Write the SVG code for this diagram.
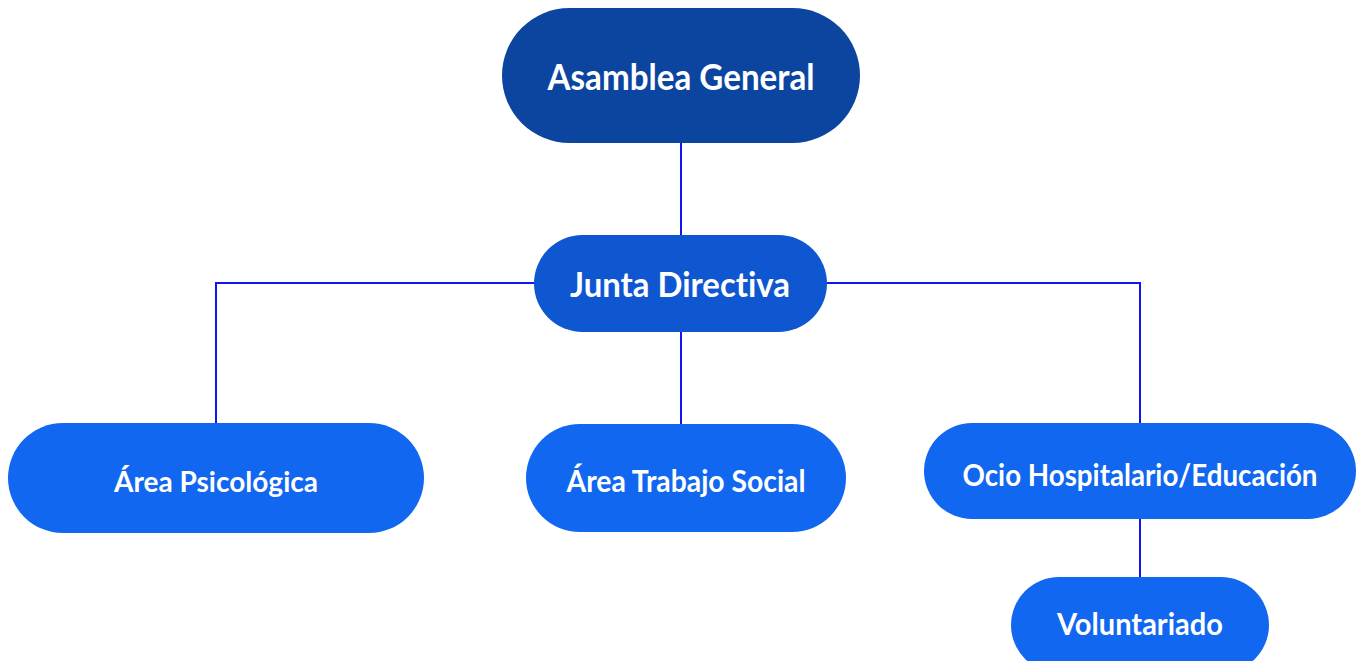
<svg xmlns="http://www.w3.org/2000/svg" width="1362" height="661" viewBox="0 0 1362 661">
<style>
.lbl{font-family:"Lato","Open Sans","Liberation Sans",sans-serif;font-weight:bold;fill:#ffffff;text-anchor:middle;font-variant-ligatures:none;font-feature-settings:"liga" 0,"dlig" 0}
.c{stroke:#1414ee;stroke-width:2;fill:none}
</style>
<rect width="1362" height="661" fill="#ffffff"/>
<g id="connectors">
<path class="c" d="M681,143 V235"/>
<path class="c" d="M534,283 H216 V423"/>
<path class="c" d="M827,283 H1140 V423"/>
<path class="c" d="M681,332 V424"/>
<path class="c" d="M1140,519 V577"/>
</g>
<g id="asamblea">
<rect x="502" y="8" width="358" height="135" rx="67.5" fill="#0b45a0"/>
<text class="lbl" x="681" y="90" font-size="37" textLength="267" lengthAdjust="spacingAndGlyphs">Asamblea General</text>
</g>
<g id="junta">
<rect x="534" y="235" width="293" height="97" rx="48.5" fill="#0f57d1"/>
<text class="lbl" x="680" y="297" font-size="34" textLength="220" lengthAdjust="spacingAndGlyphs">Junta Directiva</text>
</g>
<g id="psicologica">
<rect x="8" y="423" width="416" height="110" rx="55" fill="#1167f0"/>
<text class="lbl" x="216" y="492" font-size="28" textLength="204" lengthAdjust="spacingAndGlyphs">Área Psicológica</text>
</g>
<g id="trabajo">
<rect x="526" y="424" width="320" height="108" rx="54" fill="#1167f0"/>
<text class="lbl" x="686" y="492" font-size="30" textLength="239" lengthAdjust="spacingAndGlyphs">Área Trabajo Social</text>
</g>
<g id="ocio">
<rect x="924" y="423" width="432" height="96" rx="48" fill="#1167f0"/>
<text class="lbl" x="1140" y="486" font-size="31" textLength="355" lengthAdjust="spacingAndGlyphs">Ocio Hospitalario/Educación</text>
</g>
<g id="voluntariado">
<rect x="1011" y="577" width="258" height="96" rx="48" fill="#1167f0"/>
<text class="lbl" x="1140" y="635" font-size="31" textLength="166" lengthAdjust="spacingAndGlyphs">Voluntariado</text>
</g>
</svg>
